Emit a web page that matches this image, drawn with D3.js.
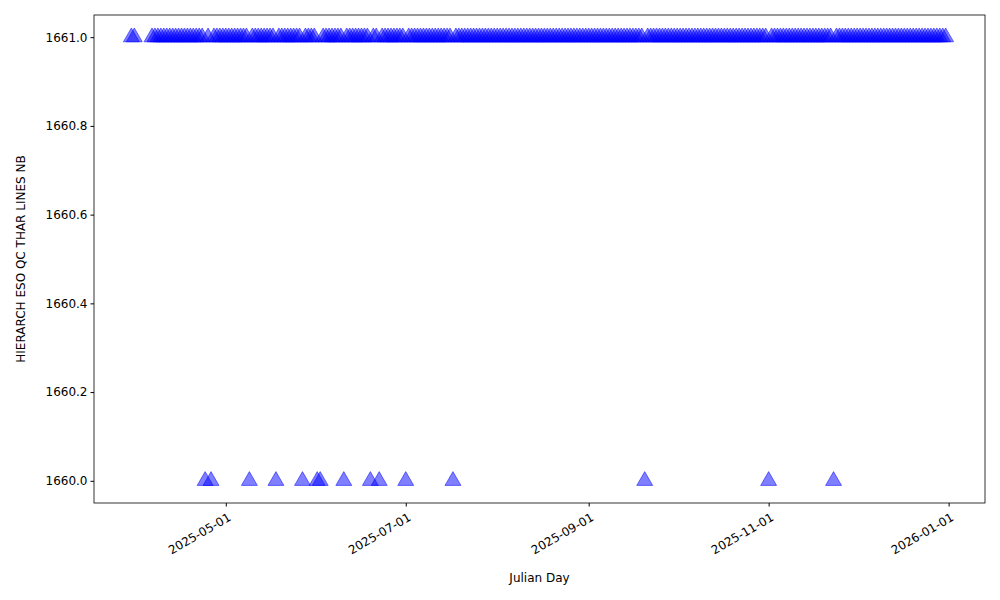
<!DOCTYPE html>
<html><head><meta charset="utf-8">
<script src="https://cdn.jsdelivr.net/npm/d3@7"></script>
<style>body{margin:0;background:#fff}text{font-family:"DejaVu Sans",sans-serif}</style>
</head><body><svg id="c" width="1000" height="600"></svg>
<script>
// dates with value 1660 (the dips)
const lowDates = ["2025-04-24","2025-04-26","2025-05-09","2025-05-18","2025-05-27","2025-06-01","2025-06-02",
  "2025-06-10","2025-06-19","2025-06-22","2025-07-01","2025-07-17","2025-09-20","2025-11-01","2025-11-23"];
// days of each month with value 1661
const topMar = [30, 31];
const topApr = [6,7,8,9,10,11,12,13,14,15,16,17,18,19,20,21,22,23,25,27,28,29,30];
const topMay = [1,2,3,4,5,6,7,8,10,11,12,13,14,15,16,17,19,20,21,22,23,24,25,26,28,29,30,31];
const topJun = [3,4,5,6,7,8,9,11,12,13,14,15,16,17,18,20,21,23,24,25,26,27,28,29,30];
const topJul = [2,3,4,5,6,7,8,9,10,11,12,13,14,15,16,18,19,20,21,22,23,24,25,26,27,28,29,30,31];
const topAug = [1,2,3,4,5,6,7,8,9,10,11,12,13,14,15,16,17,18,19,20,21,22,23,24,25,26,27,28,29,30,31];
const topSep = [1,2,3,4,5,6,7,8,9,10,11,12,13,14,15,16,17,18,19,21,22,23,24,25,26,27,28,29,30];
const topOct = [1,2,3,4,5,6,7,8,9,10,11,12,13,14,15,16,17,18,19,20,21,22,23,24,25,26,27,28,29,30,31];
const topNov = [2,3,4,5,6,7,8,9,10,11,12,13,14,15,16,17,18,19,20,21,22,24,25,26,27,28,29,30];
const topDec = [1,2,3,4,5,6,7,8,9,10,11,12,13,14,15,16,17,18,19,20,21,22,23,24,25,26,27,28,29,30,31];
const yTicks = [1660.0, 1660.2, 1660.4, 1660.6, 1660.8, 1661.0];
const xTicks = ["2025-05-01","2025-07-01","2025-09-01","2025-11-01","2026-01-01"];

const parse = d3.timeParse("%Y-%m-%d");
const pts = [];
[[3,topMar],[4,topApr],[5,topMay],[6,topJun],[7,topJul],[8,topAug],[9,topSep],[10,topOct],[11,topNov],[12,topDec]]
  .forEach(([m, days]) => days.forEach(d => pts.push({date: new Date(2025, m-1, d), v: 1661})));
lowDates.forEach(s => pts.push({date: parse(s), v: 1660}));

const svg = d3.select("#c");
const L = 94, R = 985, T = 15, B = 503;
const x = d3.scaleTime().domain([new Date(2025,2,17,8), new Date(2026,0,13,8)]).range([L, R]);
const y = d3.scaleLinear().domain([1659.95, 1661.05]).range([B, T]);

const tri = d3.symbol().type(d3.symbolTriangle).size(110);
svg.append("g").selectAll("path").data(pts).join("path")
  .attr("d", tri)
  .attr("transform", d => `translate(${x(d.date)},${y(d.v)})`)
  .attr("fill", "rgba(0,0,255,0.5)").attr("stroke", "rgba(0,0,255,0.5)").attr("stroke-width", 1);

const xa = svg.append("g").attr("transform", `translate(0,${B})`)
  .call(d3.axisBottom(x).tickValues(xTicks.map(parse)).tickFormat(d3.timeFormat("%Y-%m-%d")).tickSizeOuter(0).tickSize(3.5));
xa.selectAll("text").attr("font-size", 12).attr("text-anchor", "end")
  .attr("transform", "rotate(-30)").attr("dx", "-0.3em").attr("dy", "0.9em");
const ya = svg.append("g").attr("transform", `translate(${L},0)`)
  .call(d3.axisLeft(y).tickValues(yTicks).tickFormat(d3.format(".1f")).tickSizeOuter(0).tickSize(3.5));
ya.selectAll("text").attr("font-size", 12).attr("fill", "#000");
xa.selectAll("text").attr("fill", "#000");
svg.selectAll(".domain").remove();
svg.append("rect").attr("x", L).attr("y", T).attr("width", R-L).attr("height", B-T)
  .attr("fill", "none").attr("stroke", "#000").attr("stroke-width", 0.8);

svg.append("text").attr("x", (L+R)/2).attr("y", 582).attr("text-anchor", "middle").attr("font-size", 12).text("Julian Day");
svg.append("text").attr("transform", `translate(25,${(T+B)/2}) rotate(-90)`).attr("text-anchor", "middle")
  .attr("font-size", 12).text("HIERARCH ESO QC THAR LINES NB");
</script></body></html>
